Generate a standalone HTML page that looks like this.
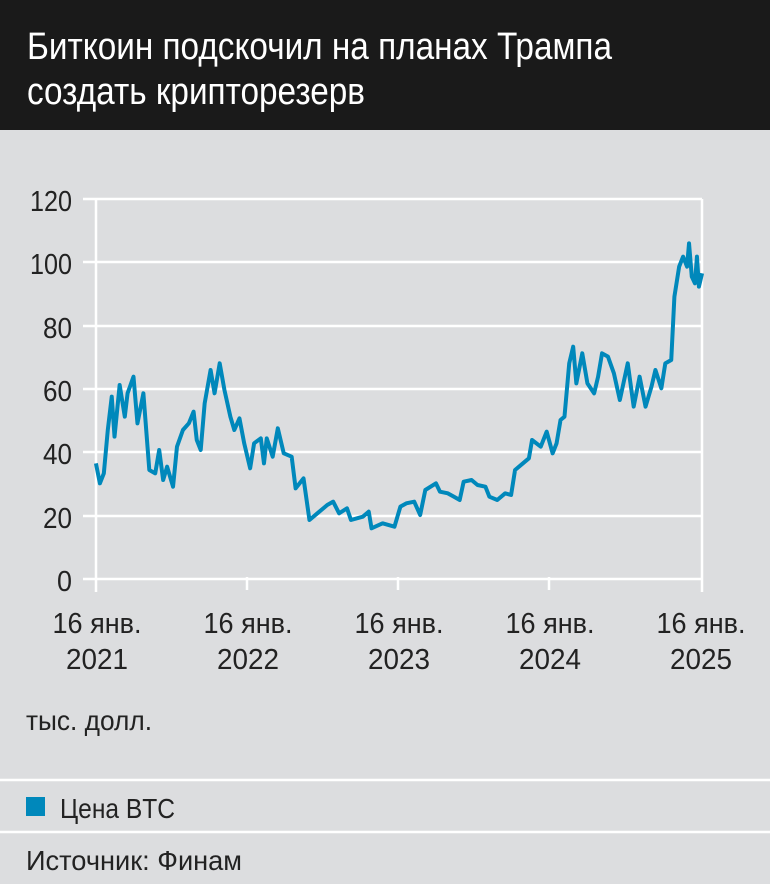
<!DOCTYPE html>
<html><head><meta charset="utf-8"><style>
html,body{margin:0;padding:0;background:#dcdddf;}
svg{display:block;}
text{font-family:"Liberation Sans Narrow","Liberation Sans",sans-serif;}
</style></head><body>
<svg width="770" height="884" viewBox="0 0 770 884" xmlns="http://www.w3.org/2000/svg">
<rect x="0" y="0" width="770" height="884" fill="#dcdddf"/>
<rect x="0" y="0" width="770" height="130" fill="#1a1a1a"/>
<text x="27" y="59" font-size="38" fill="#fff" textLength="585" lengthAdjust="spacingAndGlyphs">Биткоин подскочил на планах Трампа</text>
<text x="27" y="104" font-size="38" fill="#fff" textLength="338" lengthAdjust="spacingAndGlyphs">создать крипторезерв</text>
<g stroke="#fff" stroke-width="2.5">
<line x1="83" y1="199" x2="702" y2="199"/>
<line x1="83" y1="262" x2="702" y2="262"/>
<line x1="83" y1="326" x2="702" y2="326"/>
<line x1="83" y1="389" x2="702" y2="389"/>
<line x1="83" y1="452" x2="702" y2="452"/>
<line x1="83" y1="516" x2="702" y2="516"/>
<line x1="83" y1="579" x2="702" y2="579"/>
<line x1="96" y1="199" x2="96" y2="592"/>
<line x1="702" y1="199" x2="702" y2="592"/>
<line x1="247" y1="577" x2="247" y2="590"/>
<line x1="398" y1="577" x2="398" y2="590"/>
<line x1="549" y1="577" x2="549" y2="590"/>
<line x1="0" y1="780" x2="770" y2="780"/>
<line x1="0" y1="832" x2="770" y2="832"/>
</g>
<g font-size="29" fill="#222" text-anchor="end" lengthAdjust="spacingAndGlyphs">
<text x="72" y="211" textLength="42" lengthAdjust="spacingAndGlyphs">120</text>
<text x="72" y="274" textLength="42" lengthAdjust="spacingAndGlyphs">100</text>
<text x="72" y="338" textLength="29" lengthAdjust="spacingAndGlyphs">80</text>
<text x="72" y="401" textLength="29" lengthAdjust="spacingAndGlyphs">60</text>
<text x="72" y="464" textLength="29" lengthAdjust="spacingAndGlyphs">40</text>
<text x="72" y="528" textLength="29" lengthAdjust="spacingAndGlyphs">20</text>
<text x="72" y="591" textLength="15" lengthAdjust="spacingAndGlyphs">0</text>
</g>
<g font-size="29" fill="#222" text-anchor="middle">
<text x="97" y="633" textLength="89" lengthAdjust="spacingAndGlyphs">16 янв.</text><text x="97" y="669" textLength="62" lengthAdjust="spacingAndGlyphs">2021</text>
<text x="248" y="633" textLength="89" lengthAdjust="spacingAndGlyphs">16 янв.</text><text x="248" y="669" textLength="62" lengthAdjust="spacingAndGlyphs">2022</text>
<text x="399" y="633" textLength="89" lengthAdjust="spacingAndGlyphs">16 янв.</text><text x="399" y="669" textLength="62" lengthAdjust="spacingAndGlyphs">2023</text>
<text x="550" y="633" textLength="89" lengthAdjust="spacingAndGlyphs">16 янв.</text><text x="550" y="669" textLength="62" lengthAdjust="spacingAndGlyphs">2024</text>
<text x="701" y="633" textLength="89" lengthAdjust="spacingAndGlyphs">16 янв.</text><text x="701" y="669" textLength="62" lengthAdjust="spacingAndGlyphs">2025</text>
</g>
<text x="26" y="730" font-size="28" fill="#222" textLength="126" lengthAdjust="spacingAndGlyphs">тыс. долл.</text>
<rect x="26" y="797" width="19" height="19" fill="#0088bb"/>
<text x="60" y="818" font-size="28" fill="#222" textLength="115" lengthAdjust="spacingAndGlyphs">Цена BTC</text>
<text x="26" y="870" font-size="28" fill="#222" textLength="216" lengthAdjust="spacingAndGlyphs">Источник: Финам</text>
<g transform="translate(90,230) scale(0.3954,0.33333)">
<polyline fill="none" stroke="#0088bb" stroke-width="4" vector-effect="non-scaling-stroke" stroke-linejoin="round" points="15,700 25,760 35,730 45,600 55,500 62,620 75,465 88,560 95,490 110,440 120,580 135,490 150,720 165,730 175,660 185,750 195,710 210,770 220,650 235,600 250,580 262,545 270,630 280,660 290,520 305,420 315,490 328,400 340,480 355,560 365,600 378,565 390,640 405,715 415,640 432,625 440,700 447,625 462,680 475,595 490,670 510,680 520,775 540,745 555,870 575,850 600,825 615,815 630,850 650,835 660,870 690,860 705,845 712,895 740,880 770,890 785,830 800,820 820,815 835,855 848,780 875,760 885,785 905,790 920,800 935,810 945,755 965,750 980,765 1000,770 1010,800 1030,810 1050,790 1065,795 1075,720 1095,700 1110,685 1118,630 1140,650 1155,605 1170,670 1180,640 1190,570 1200,560 1212,400 1222,350 1230,460 1245,370 1258,460 1275,490 1285,440 1295,370 1310,380 1325,430 1340,510 1360,400 1375,530 1390,440 1405,530 1420,470 1430,420 1445,475 1455,400 1470,390 1478,200 1490,110 1500,80 1510,110 1515,40 1522,140 1530,160 1535,80 1540,170 1548,130"/>
</g>
</svg>
</body></html>
